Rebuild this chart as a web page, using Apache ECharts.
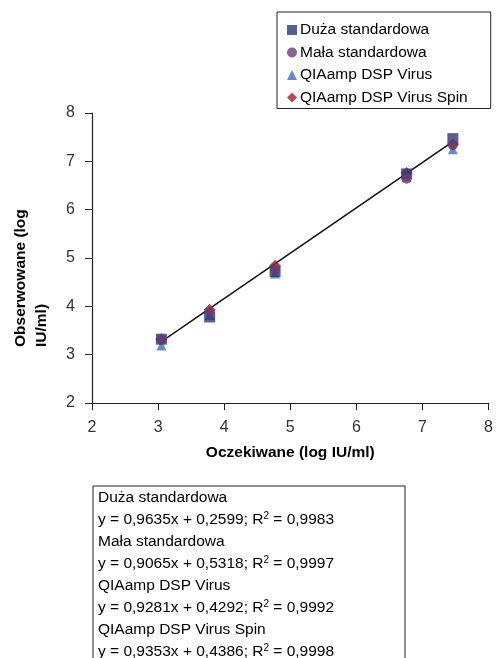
<!DOCTYPE html>
<html>
<head>
<meta charset="utf-8">
<script src="https://cdn.jsdelivr.net/npm/echarts@6/dist/echarts.min.js"></script>
<style>html,body{margin:0;padding:0;background:#fff}#c{width:496px;height:658px}</style>
</head>
<body>
<div id="c"></div>
<script>
var expected = [3.05, 3.78, 4.77, 6.76, 7.46];
var duza = [3.32, 3.78, 4.72, 6.74, 7.47];
var mala = [3.31, 3.89, 4.76, 6.64, 7.34];
var qiaVirus = [3.19, 3.82, 4.68, 6.68, 7.25];
var qiaSpin = [3.32, 3.93, 4.84, 6.76, 7.35];
var fitX = [3.05, 7.46];
var fitY = [3.27, 7.41];
var xTicks = [2, 3, 4, 5, 6, 7, 8];
var yTicks = [2, 3, 4, 5, 6, 7, 8];
var seriesNames = ['Duża standardowa', 'Mała standardowa', 'QIAamp DSP Virus', 'QIAamp DSP Virus Spin'];
var xTitle = 'Oczekiwane (log IU/ml)';
var yTitleLines = ['Obserwowane (log', 'IU/ml)'];
var eqLines = [
  'Duża standardowa',
  'y = 0,9635x + 0,2599; R{s|2} = 0,9983',
  'Mała standardowa',
  'y = 0,9065x + 0,5318; R{s|2} = 0,9997',
  'QIAamp DSP Virus',
  'y = 0,9281x + 0,4292; R{s|2} = 0,9992',
  'QIAamp DSP Virus Spin',
  'y = 0,9353x + 0,4386; R{s|2} = 0,9998'
];

function pairs(xs, ys) { return xs.map(function (x, i) { return [x, ys[i]]; }); }

var chart = echarts.init(document.getElementById('c'), null, {renderer: 'canvas'});
var font = "'Liberation Sans', Arial, sans-serif";
var eqGraphics = eqLines.map(function (t, i) {
  return {
    type: 'text', x: 98, y: 498 + i * 22,
    style: {text: t, fontSize: 15.5, fontFamily: font, fill: '#000', verticalAlign: 'middle',
      rich: {s: {fontSize: 10, fontFamily: font, verticalAlign: 'top', padding: [0, 0, 7, 0]}}}
  };
});
var yTitleGraphics = yTitleLines.map(function (t, i) {
  return {
    type: 'text', x: 21 + i * 21, y: 347, rotation: Math.PI / 2,
    style: {text: t, fontSize: 15.5, fontWeight: 'bold', fontFamily: font, fill: '#000',
      align: 'left', verticalAlign: 'middle'}
  };
});
chart.setOption({
  animation: false,
  textStyle: {fontFamily: font},
  grid: {left: 92, right: 7, top: 113, bottom: 255, containLabel: false},
  legend: {
    orient: 'vertical', left: 277, top: 12,
    borderColor: '#222', borderWidth: 1, padding: [10, 23, 3, 10],
    itemWidth: 10, itemHeight: 10, itemGap: 6.5,
    textStyle: {fontSize: 15.5, color: '#000', fontFamily: font, padding: [0, 0, 0, -2]},
    data: seriesNames
  },
  xAxis: {
    type: 'value', min: xTicks[0], max: xTicks[xTicks.length - 1], interval: 1,
    name: xTitle, nameLocation: 'middle', nameGap: 42,
    nameTextStyle: {fontWeight: 'bold', fontSize: 15.5, color: '#000', fontFamily: font},
    axisLine: {lineStyle: {color: '#222', width: 1.2}},
    axisTick: {show: true, length: 7, inside: false, lineStyle: {color: '#222'}},
    axisLabel: {fontSize: 16, color: '#333', margin: 17, fontFamily: font},
    splitLine: {show: false}
  },
  yAxis: {
    type: 'value', min: yTicks[0], max: yTicks[yTicks.length - 1], interval: 1,
    axisLine: {lineStyle: {color: '#222', width: 1.2}},
    axisTick: {show: true, length: 7, inside: false, lineStyle: {color: '#222'}},
    axisLabel: {fontSize: 16, color: '#333', margin: 17, fontFamily: font},
    splitLine: {show: false}
  },
  graphic: [
    {type: 'rect', x: 93, y: 486, shape: {width: 312, height: 180},
     style: {fill: 'none', stroke: '#222', lineWidth: 1}}
  ].concat(eqGraphics, yTitleGraphics),
  series: [
    {type: 'line', data: pairs(fitX, fitY), symbol: 'none', z: 1,
     lineStyle: {color: '#111', width: 1.5}, silent: true},
    {name: seriesNames[0], type: 'scatter', symbol: 'rect', symbolSize: 11, z: 4,
     itemStyle: {color: '#283a7a'}, data: pairs(expected, duza)},
    {name: seriesNames[1], type: 'scatter', symbol: 'circle', symbolSize: 10, z: 5,
     itemStyle: {color: '#6e3b74'}, data: pairs(expected, mala)},
    {name: seriesNames[2], type: 'scatter', symbol: 'triangle', symbolSize: 10, z: 2,
     itemStyle: {color: '#3f6fb5'}, data: pairs(expected, qiaVirus)},
    {name: seriesNames[3], type: 'scatter', symbol: 'diamond', symbolSize: 12, z: 3,
     itemStyle: {color: '#a11d2e'}, data: pairs(expected, qiaSpin)}
  ]
});
</script>
</body>
</html>
